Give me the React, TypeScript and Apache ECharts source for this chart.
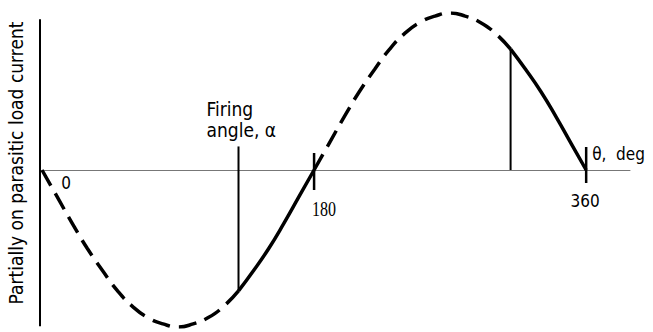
import { useEffect, useRef } from "react";
import * as echarts from "echarts";

// Load current through one cycle, sampled every 10 degrees (normalised to peak).
const angles = [
  0, 10, 20, 30, 40, 50, 60, 70, 80, 90, 100, 110, 120, 130, 140, 150, 160, 170, 180,
  190, 200, 210, 220, 230, 240, 250, 260, 270, 280, 290, 300, 310, 320, 330, 340, 350, 360,
];
const current = [
  0, -0.17, -0.34, -0.5, -0.64, -0.77, -0.87, -0.94, -0.98, -1, -0.98, -0.94, -0.87, -0.77,
  -0.64, -0.5, -0.34, -0.17, 0,
  0.17, 0.34, 0.5, 0.64, 0.77, 0.87, 0.94, 0.98, 1, 0.98, 0.94, 0.87, 0.77, 0.64, 0.5,
  0.34, 0.17, 0,
];

const firingAngle = 130;
const turnOffAngle = 310;
const tickLabels = ["0", "180", "360"];
const yTitle = "Partially on parasitic load current";
const xTitle = "θ,  deg";
const firingLabel = ["Firing", "angle, α"];

const FONT = "'DejaVu Sans Condensed', 'DejaVu Sans', sans-serif";
const SERIF = "'Liberation Serif', 'DejaVu Serif', serif";

function segment(from: number, to: number) {
  const pts: [number, number][] = [];
  angles.forEach((a, i) => {
    if (a >= from && a <= to) pts.push([a, current[i]]);
  });
  return pts;
}

function valueAt(angle: number) {
  return current[angles.indexOf(angle)];
}

export default function App() {
  const ref = useRef<HTMLDivElement>(null);

  useEffect(() => {
    if (!ref.current) return;
    const chart = echarts.init(ref.current, null, { renderer: "svg" });

    const dashed = { type: [18, 9] as number[], width: 3.5, color: "#000", cap: "butt" as const };
    const solid = { type: "solid" as const, width: 3.5, color: "#000" };
    const thin = { type: "solid" as const, width: 2, color: "#000" };

    const curve = (data: [number, number][], lineStyle: object) => ({
      type: "line",
      data,
      smooth: true,
      showSymbol: false,
      symbol: "none",
      lineStyle,
      silent: true,
    });

    chart.setOption({
      animation: false,
      backgroundColor: "#fff",
      grid: { left: 42, right: 23, top: 13, bottom: 5 },
      xAxis: {
        type: "value",
        min: 0,
        max: 389,
        axisLine: { show: true, onZero: true, lineStyle: { color: "#777", width: 1 } },
        axisTick: { show: false },
        axisLabel: { show: false },
        splitLine: { show: false },
      },
      yAxis: {
        type: "value",
        min: -1,
        max: 1,
        axisLine: { show: false },
        axisTick: { show: false },
        axisLabel: { show: false },
        splitLine: { show: false },
      },
      series: [
        curve(segment(0, firingAngle), dashed),
        curve(segment(firingAngle, 180), solid),
        curve(segment(180, turnOffAngle), dashed),
        curve(segment(turnOffAngle, 360), solid),
        // firing instant
        curve([[firingAngle, 0.15], [firingAngle, valueAt(firingAngle)]], thin),
        // turn-off instant
        curve([[turnOffAngle, 0], [turnOffAngle, valueAt(turnOffAngle)]], thin),
        // zero-crossing ticks
        curve([[180, 0.108], [180, -0.127]], { ...thin, width: 2.5 }),
        curve([[360, 0.146], [360, -0.083]], { ...thin, width: 2.5 }),
      ],
    });

    const px = (x: number, y: number) => chart.convertToPixel({ gridIndex: 0 }, [x, y]);
    const p0 = px(0, 0);
    const p180 = px(180, 0);
    const p360 = px(360, 0);
    const pa = px(firingAngle, 0);
    const axisTop = px(0, 0.96);
    const axisBottom = px(0, -0.995);

    const txt = (
      text: string,
      x: number,
      y: number,
      align = "left",
      size = 15,
      family = FONT,
      scaleX = 1,
    ) => ({
      type: "text",
      x,
      y,
      scaleX,
      style: {
        text,
        fill: "#000",
        font: `${size}px ${family}`,
        align,
        verticalAlign: "middle",
      },
    });

    chart.setOption({
      graphic: [
        // vertical current axis
        {
          type: "line",
          shape: { x1: axisTop[0] - 2, y1: axisTop[1], x2: axisBottom[0] - 2, y2: axisBottom[1] },
          style: { stroke: "#000", lineWidth: 2 },
        },
        txt(tickLabels[0], p0[0] + 24, p0[1] + 13, "center", 17),
        txt(tickLabels[1], p180[0] + 10, p180[1] + 39, "center", 20, SERIF, 0.8),
        txt(tickLabels[2], p360[0] - 1, p360[1] + 31, "center", 17),
        txt(xTitle, p360[0] + 6, p360[1] - 16, "left", 17),
        txt(firingLabel[0], pa[0] - 32, pa[1] - 61, "left", 19),
        txt(firingLabel[1], pa[0] - 32, pa[1] - 40, "left", 19),
        {
          type: "text",
          x: 16,
          y: 163,
          rotation: Math.PI / 2,
          style: {
            text: yTitle,
            fill: "#000",
            font: `19px ${FONT}`,
            align: "center",
            verticalAlign: "middle",
          },
        },
      ],
    });

    return () => chart.dispose();
  }, []);

  return (
    <div
      ref={ref}
      style={{ position: "fixed", left: 0, top: 0, width: 653, height: 332 }}
    />
  );
}
